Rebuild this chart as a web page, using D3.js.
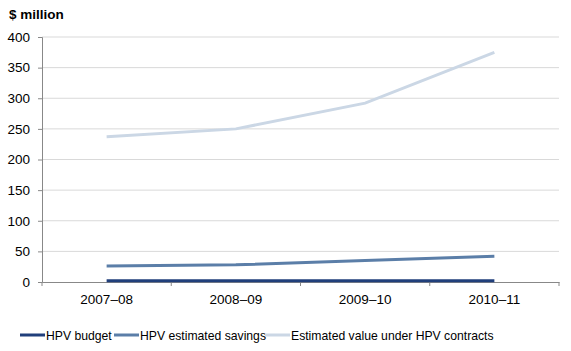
<!DOCTYPE html>
<html>
<head>
<meta charset="utf-8">
<script src="https://cdn.jsdelivr.net/npm/d3@7"></script>
<style>
  body { margin: 0; background: #fff; }
  text { font-family: "Liberation Sans", Arial, sans-serif; }
</style>
</head>
<body>
<div id="chart"></div>
<script>
const years = ['2007–08', '2008–09', '2009–10', '2010–11'];
const budget = [2, 2, 2, 2];
const savings = [26, 28, 35, 42];
const contracts = [237, 250, 292, 375];
const yTicks = [0, 50, 100, 150, 200, 250, 300, 350, 400];

const series = [
  { name: 'HPV budget', values: budget, color: '#203f7b' },
  { name: 'HPV estimated savings', values: savings, color: '#5b7ea8' },
  { name: 'Estimated value under HPV contracts', values: contracts, color: '#cbd7e5' }
];

const W = 571, H = 351;
const margin = { top: 37, right: 12, bottom: 69, left: 42 };
const width = W - margin.left - margin.right;
const height = H - margin.top - margin.bottom;

const svg = d3.select('#chart').append('svg')
    .attr('width', W).attr('height', H);

svg.append('text')
    .attr('x', 9).attr('y', 19)
    .attr('font-size', 13.5).attr('font-weight', 'bold')
    .text('$ million');

const chart = svg.append('g')
    .attr('transform', `translate(${margin.left},${margin.top})`);

const x = d3.scaleBand().domain(years).range([0, width]);
const y = d3.scaleLinear().domain([0, 400]).range([height, 0]);

// gridlines
chart.append('g')
  .selectAll('line')
  .data(yTicks.filter(d => d > 0))
  .join('line')
    .attr('x1', 0).attr('x2', width)
    .attr('y1', d => y(d)).attr('y2', d => y(d))
    .attr('stroke', '#d9d9d9').attr('stroke-width', 1);

// y axis
const yAxis = chart.append('g')
    .call(d3.axisLeft(y).tickValues(yTicks).tickSize(4).tickPadding(8));
yAxis.select('.domain').attr('stroke', '#888');
yAxis.selectAll('.tick line').attr('stroke', '#888');
yAxis.selectAll('text').attr('font-size', 13.5).attr('fill', '#000')
    .attr('font-family', '"Liberation Sans", Arial, sans-serif');

// x axis
const xAxis = chart.append('g')
    .attr('transform', `translate(0,${height})`)
    .call(d3.axisBottom(x).tickSize(0).tickPadding(12));
xAxis.select('.domain').attr('stroke', '#888');
xAxis.selectAll('text').attr('font-size', 13.5).attr('fill', '#000')
    .attr('font-family', '"Liberation Sans", Arial, sans-serif');
chart.append('g')
  .selectAll('line')
  .data(years.concat(['end']))
  .join('line')
    .attr('x1', (d, i) => i * x.step()).attr('x2', (d, i) => i * x.step())
    .attr('y1', height).attr('y2', height + 4)
    .attr('stroke', '#888');

// lines
const line = d3.line()
    .x((d, i) => x(years[i]) + x.bandwidth() / 2)
    .y(d => y(d));

chart.selectAll('.series')
  .data(series.slice().reverse())
  .join('path')
    .attr('fill', 'none')
    .attr('stroke', d => d.color)
    .attr('stroke-width', 3)
    .attr('d', d => line(d.values));

// legend
const legendX = [20, 114, 265];
const legend = svg.append('g').attr('transform', 'translate(0,335)');
series.forEach((s, i) => {
  legend.append('line')
      .attr('x1', legendX[i]).attr('x2', legendX[i] + 25)
      .attr('y1', 0).attr('y2', 0)
      .attr('stroke', s.color).attr('stroke-width', 3);
  legend.append('text')
      .attr('x', legendX[i] + 26).attr('y', 5)
      .attr('font-size', 12.2)
      .text(s.name);
});
</script>
</body>
</html>
